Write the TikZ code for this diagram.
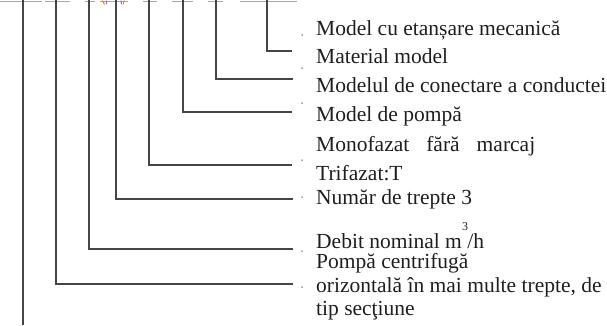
\documentclass[tikz,border=0pt]{standalone}
\usepackage{fontspec}
\setmainfont{Liberation Serif}
\definecolor{ln}{HTML}{454545}
\definecolor{txt}{HTML}{1E1E1E}
\definecolor{seg}{HTML}{A8A8A8}
\begin{document}
\begin{tikzpicture}[x=1pt,y=-1pt,
  lbl/.style={anchor=base west, inner sep=0pt, text=txt, font=\fontsize{21.5}{24}\selectfont},
  suplbl/.style={anchor=base, inner sep=0pt, text=txt, font=\fontsize{12}{14}\selectfont},
  conn/.style={draw=ln, line width=1.3pt},
  topseg/.style={draw=seg, line width=1.6pt},
  tick/.style={fill=ln, circle, inner sep=0pt, minimum size=1.5pt}]
\useasboundingbox (0,0) rectangle (607,325);

% top segments
\foreach \a/\b in {0/42,45/70,85/95,100/128,143/157,172/193,208/223,240/297}
  \draw[topseg] (\a,1.5) -- (\b,1.5);
% small coloured artefacts
\draw[orange!85!brown, line width=0.9pt] (102.5,0.5) .. controls (104,2) .. (104.5,4.5);
\draw[blue!65, line width=0.8pt] (106,0.5) -- (106.5,4);
\draw[blue!65, line width=0.8pt] (121,0.5) -- (121.5,4);
\draw[orange!85!brown, line width=0.9pt] (124.5,0.5) .. controls (124,2) .. (123,4.5);

% labels
\node[lbl] (l1) at (316,35) {Model cu etanșare mecanică};
\node[lbl] (l2) at (316,63) {Material model};
\node[lbl] (l3) at (316,92) {Modelul de conectare a conductei};
\node[lbl] (l4) at (316,121) {Model de pompă};
\node[lbl] (l5) at (316,151) {Monofazat\hspace{17pt}fără\hspace{17pt}marcaj};
\node[lbl] (l6) at (316,180) {Trifazat:T};
\node[lbl] (l7) at (316,204) {Număr de trepte 3};
\node[lbl] (l8) at (316,248) {Debit nominal m /h};
\node[suplbl] (l8s) at (465,230) {3};
\node[lbl] (l9) at (316,268) {Pompă centrifugă};
\node[lbl] (l10) at (316,292) {orizontală în mai multe trepte, de};
\node[lbl] (l11) at (316,315) {tip secţiune};

% small dots before labels
\foreach \y/\n in {35/1,68/2,103/3,160/4,197/5,251/6,287/7}
  \node[tick] (d\n) at (302,\y) {};

% connectors
\coordinate (t8) at (267,0); \coordinate (e8) at (292,51);
\coordinate (t7) at (216,0); \coordinate (e7) at (293,79);
\coordinate (t6) at (183,0); \coordinate (e6) at (292,112);
\coordinate (t5) at (149,0); \coordinate (e5) at (292,165);
\coordinate (t4) at (116,0); \coordinate (e4) at (293,199);
\coordinate (t3) at (89,0);  \coordinate (e3) at (293,249);
\coordinate (t2) at (56,0);  \coordinate (e2) at (293,284);
\coordinate (t1) at (23,0);  \coordinate (e1) at (23,325);
\foreach \i in {2,...,8}
  \draw[conn] (t\i) |- (e\i);
\draw[conn] (t1) -- (e1);
\end{tikzpicture}
\end{document}
